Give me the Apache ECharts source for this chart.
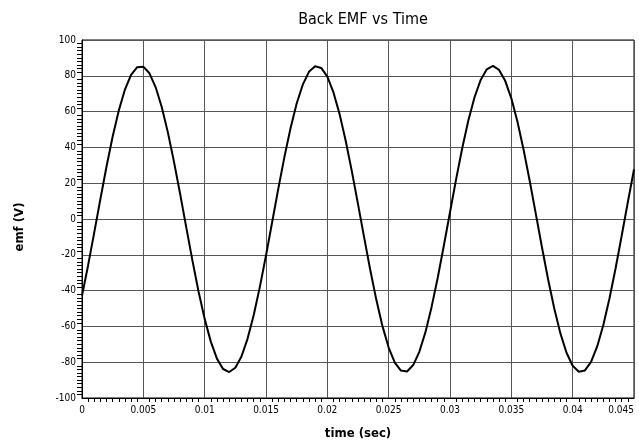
<!DOCTYPE html>
<html>
<head>
<meta charset="utf-8">
<script src="https://cdn.jsdelivr.net/npm/echarts@6/dist/echarts.min.js"></script>
<style>
html,body{margin:0;padding:0;background:#fff;}
#chart{width:639px;height:443px;}
</style>
</head>
<body>
<div id="chart"></div>
<script>
var timeStep = 0.0005;
var emfValues = [
 -42.9,-25.8,-7.5,11.2,29.3,46.1,60.6,72.3,80.5,84.8,
 85.1,81.4,73.7,62.6,48.4,31.9,14.0,-4.7,-23.1,-40.5,
 -55.8,-68.5,-78.0,-83.8,-85.5,-83.1,-76.8,-66.8,-53.6,-37.9,
 -20.4,-1.8,16.8,34.6,50.7,64.5,75.1,82.2,85.3,84.4,
 79.5,70.7,58.6,43.6,26.6,8.3,-10.3,-28.5,-45.3,-60.0,
 -71.8,-80.2,-84.7,-85.2,-81.6,-74.2,-63.2,-49.1,-32.8,-14.8,
 3.8,22.3,39.7,55.2,68.0,77.7,83.6,85.5,83.3,77.2,
 67.4,54.3,38.7,21.2,2.7,-15.9,-33.8,-50.0,-63.9,-74.7,
 -82.0,-85.3,-84.6,-79.8,-71.2,-59.2,-44.4,-27.5,-9.2,9.5,
 27.7
];
var timeValues = emfValues.map(function(v, i){ return +(i * timeStep).toFixed(4); });
var xTickLabels = ['0','0.005','0.01','0.015','0.02','0.025','0.03','0.035','0.04','0.045'];
var yTickLabels = ['-100','-80','-60','-40','-20','0','20','40','60','80','100'];

var seriesData = timeValues.map(function(t, i){ return [t, emfValues[i]]; });
var fontNarrow = '"Liberation Sans Narrow","DejaVu Sans Condensed",sans-serif';

var chart = echarts.init(document.getElementById('chart'), null, {renderer:'canvas'});
chart.setOption({
  animation: false,
  backgroundColor: '#fff',
  title: {
    text: 'Back EMF vs Time',
    left: 358, top: 7, textAlign: 'center',
    textStyle: {fontFamily: fontNarrow, fontSize: 16, fontWeight: 'normal', color: '#000'}
  },
  grid: {left: 82, right: 5, top: 40, bottom: 45, show: true, borderColor: '#000', borderWidth: 1,
         backgroundColor: 'transparent', containLabel: false, outerBoundsMode: 'none'},
  xAxis: {
    type: 'value', min: 0, max: 0.045, interval: 0.005,
    name: 'time (sec)', nameLocation: 'middle', nameGap: 29,
    nameTextStyle: {fontFamily: fontNarrow, fontSize: 13, fontWeight: 'bold', color: '#000'},
    axisLine: {show: true, onZero: false, lineStyle: {color: '#000', width: 1}},
    axisTick: {show: false},
    minorTick: {show: true, splitNumber: 10, length: 4, inside: true, lineStyle: {color: '#000', width: 1}},
    axisLabel: {
      margin: 7, color: '#000', fontFamily: fontNarrow, fontSize: 10, alignMaxLabel: 'right',
      formatter: function(v){ var i = Math.round(v / 0.005); return xTickLabels[i]; }
    },
    splitLine: {show: true, lineStyle: {color: '#555', width: 1}}
  },
  yAxis: {
    type: 'value', min: -100, max: 100, interval: 20,
    name: 'emf (V)', nameLocation: 'middle', nameGap: 56, nameRotate: 90,
    nameTextStyle: {fontFamily: fontNarrow, fontSize: 13, fontWeight: 'bold', color: '#000', padding: [0, 16, 0, 0]},
    axisLine: {show: true, onZero: false, lineStyle: {color: '#000', width: 1}},
    axisTick: {show: false},
    minorTick: {show: true, splitNumber: 10, length: 5, inside: true, lineStyle: {color: '#000', width: 1}},
    axisLabel: {
      margin: 6, color: '#000', fontFamily: fontNarrow, fontSize: 10,
      formatter: function(v){ var i = Math.round((v + 100) / 20); return yTickLabels[i]; }
    },
    splitLine: {show: true, lineStyle: {color: '#555', width: 1}}
  },
  series: [{
    type: 'line', data: seriesData, showSymbol: false, smooth: false,
    lineStyle: {color: '#000', width: 2}
  }]
});
</script>
</body>
</html>
